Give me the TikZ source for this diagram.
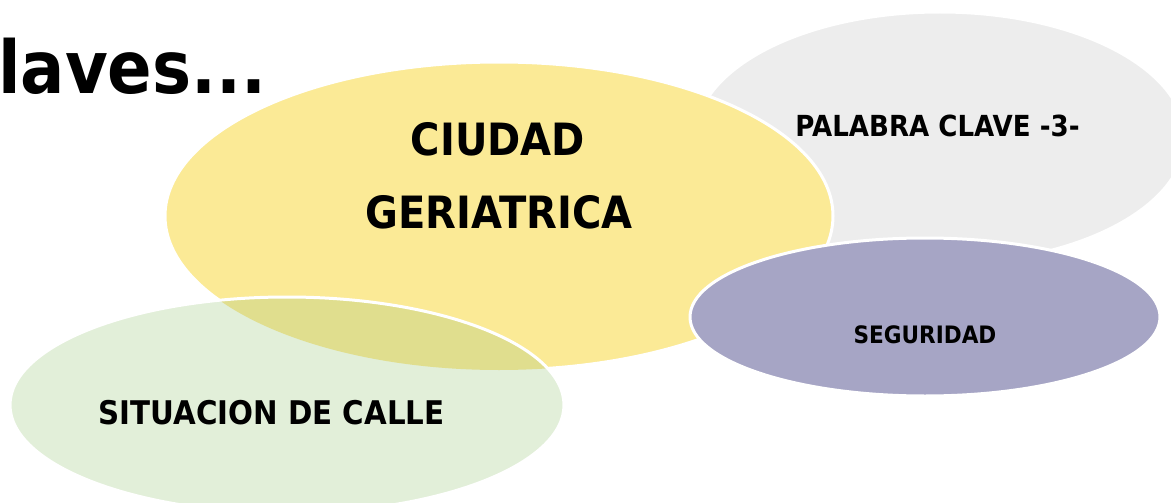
\documentclass[tikz,border=0pt]{standalone}
\usepackage{fontspec}
\newfontfamily\tah{DejaVu Sans}[FakeStretch=0.9]
\definecolor{amarillo}{RGB}{251,234,150}
\definecolor{gris}{RGB}{237,237,237}
\definecolor{verde}{RGB}{226,239,217}
\definecolor{oliva}{RGB}{224,222,142}
\definecolor{lila}{RGB}{166,165,197}
\tikzset{
  burbuja/.style={draw=white, line width=3pt},
  rotulo/.style={font=\tah\bfseries, inner sep=0pt, anchor=center}
}
\begin{document}
\begin{tikzpicture}[x=1pt,y=-1pt]
      \useasboundingbox (0,0) rectangle (1171,503);
      \clip (0,0) rectangle (1171,503);
      \draw[burbuja,fill=gris] (940,138) ellipse [x radius=245, y radius=126];
      \draw[burbuja,fill=amarillo] (499,216) ellipse [x radius=334, y radius=154];
      \fill[verde] (287,405) ellipse [x radius=277, y radius=108];
      \begin{scope}
        \clip (499,216) ellipse [x radius=334, y radius=154];
        \fill[oliva] (287,405) ellipse [x radius=277, y radius=108];
      \end{scope}
      \draw[burbuja] (287,405) ellipse [x radius=277, y radius=108];
      \draw[burbuja,fill=lila] (925,317) ellipse [x radius=235, y radius=79];
      \node[rotulo, anchor=base west, font=\tah\bfseries\fontsize{73}{78}\selectfont] (titulo) at (-2,93) {laves...};
      \node[rotulo, font=\tah\bfseries\fontsize{44.5}{48}\selectfont] (ciudad) at (498,139) {CIUDAD};
      \node[rotulo, font=\tah\bfseries\fontsize{44.5}{48}\selectfont] (geriatrica) at (499,212.5) {GERIATRICA};
      \node[rotulo, font=\tah\bfseries\fontsize{29}{31}\selectfont] (clave) at (937.5,126) {PALABRA CLAVE -3-};
      \node[rotulo, font=\tah\bfseries\fontsize{24}{26}\selectfont] (seguridad) at (925,335) {SEGURIDAD};
      \node[rotulo, font=\tah\bfseries\fontsize{32.6}{35}\selectfont] (calle) at (271.5,412.5) {SITUACION DE CALLE};
\end{tikzpicture}
\end{document}
